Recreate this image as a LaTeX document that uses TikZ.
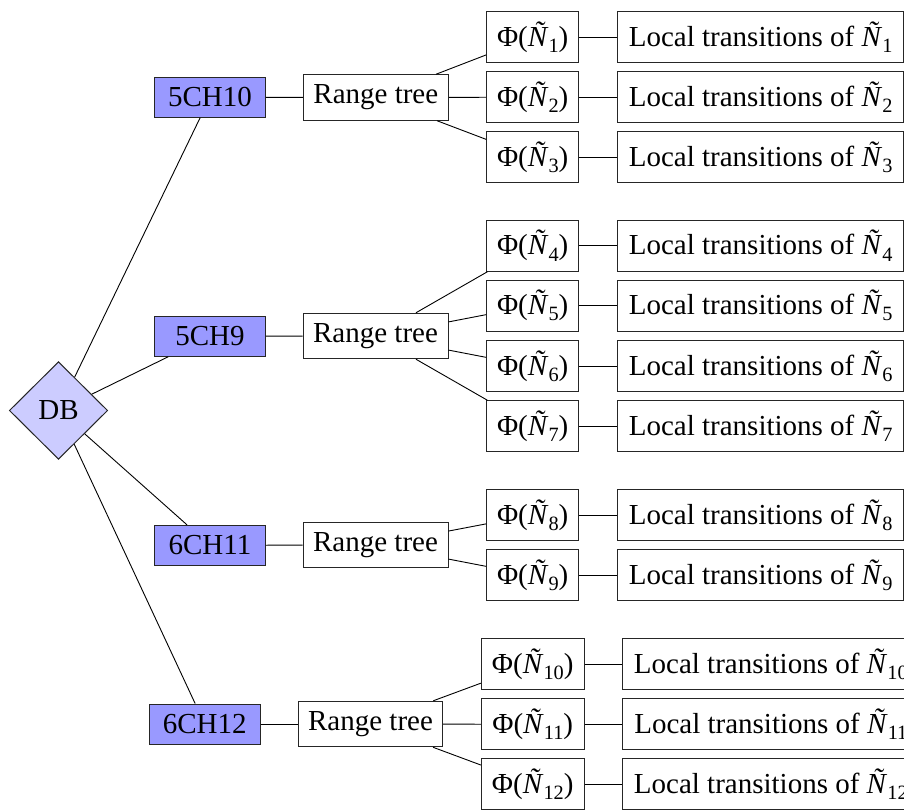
\documentclass[tikz,border=0pt]{standalone}
\usepackage{fontspec}
\setmainfont{Liberation Serif}
\usetikzlibrary{shapes.geometric}
% N with tilde and a lowered index
\newcommand{\ntl}[1]{\textit{Ñ}\raisebox{-0.21em}{\fontsize{20.3}{21}\selectfont #1}}
\newcommand{\phin}[1]{Φ(\ntl{#1})}
\newcommand{\loct}[1]{Local transitions of \ntl{#1}}
\begin{document}
\fontsize{29}{35}\selectfont
\begin{tikzpicture}[x=1pt,y=-1pt,
  frame/.style={draw=black!85,line width=1pt,inner sep=0pt},
  dbnode/.style={frame,diamond,aspect=1,fill=blue!20,minimum width=98.4pt,minimum height=97.6pt},
  chbox/.style={frame,fill=blue!40,minimum width=110.6pt,minimum height=40pt},
  rtbox/.style={frame,fill=white,minimum width=145pt,minimum height=45.5pt},
  phibox/.style={frame,fill=white,minimum width=92pt,minimum height=51pt},
  phiwide/.style={phibox,minimum width=102.7pt},
  ltbox/.style={frame,fill=white,anchor=west,minimum width=285.7pt,minimum height=51pt},
  ltwide/.style={ltbox,minimum width=296pt},
  link/.style={line width=0.9pt,black}]
\useasboundingbox (0,0) rectangle (904,810);
\clip (0,0) rectangle (904,810);

% root
\node[dbnode] (db) at (58.5,410.5) {DB};

% first level
\node[chbox] (c1) at (210,97.3)  {5CH10};
\node[chbox] (c2) at (210,336.3) {5CH9};
\node[chbox] (c3) at (210,545.3) {6CH11};
\node[chbox] (c4) at (204.7,724) {6CH12};

% range trees
\node[rtbox] (r1) at (375.8,97.5) {Range tree};
\node[rtbox] (r2) at (375.5,336)  {Range tree};
\node[rtbox] (r3) at (375.5,545)  {Range tree};
\node[rtbox,minimum width=144.4pt] (r4) at (370.5,724) {Range tree};

% leaves: Phi boxes and their local transitions
\foreach \i/\y in {1/37,2/97.2,3/157,4/245.7,5/305.7,6/366.3,7/426.3,8/515,9/575.3}{
  \node[phibox] (p\i) at (532.7,\y) {\phin{\i}};
  \node[ltbox] (l\i) at (617.3,\y) {\loct{\i}};
}
\foreach \i/\y in {10/664,11/724.3,12/784.3}{
  \node[phiwide] (p\i) at (532.7,\y) {\phin{\i}};
  \node[ltwide] (l\i) at (622.3,\y) {\loct{\i}};
}

% connectors
\foreach \k in {1,...,4}{
  \draw[link] (db) -- (c\k);
  \draw[link] (c\k) -- (r\k);
}
\foreach \i in {1,2,3}{\draw[link] (r1) -- (p\i);}
\foreach \i in {4,5,6,7}{\draw[link] (r2) -- (p\i);}
\foreach \i in {8,9}{\draw[link] (r3) -- (p\i);}
\foreach \i in {10,11,12}{\draw[link] (r4) -- (p\i);}
\foreach \i in {1,...,12}{\draw[link] (p\i) -- (l\i);}
\end{tikzpicture}
\end{document}
